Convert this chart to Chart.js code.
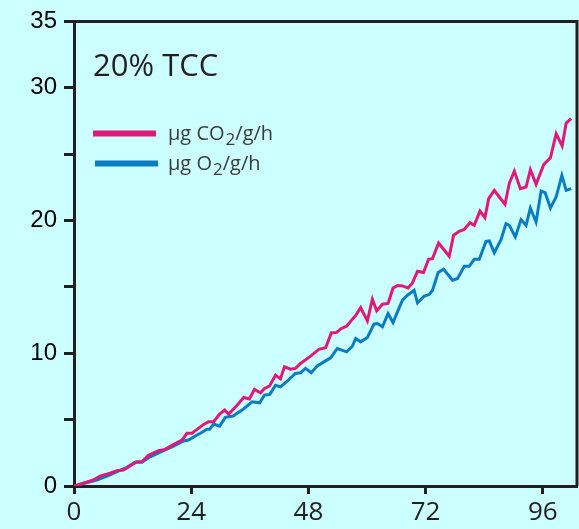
<!DOCTYPE html>
<html lang="en">
<head>
  <meta charset="UTF-8">
  <title>20% TCC</title>
  <style>
    html, body { margin: 0; padding: 0; background: #ccffff; }
    #wrap { width: 579px; height: 529px; }
  </style>
</head>
<body>
  <div id="wrap"><canvas id="gasChart" width="579" height="529"></canvas></div>

  <script src="https://cdn.jsdelivr.net/npm/chart.js"></script>
  <script>
    // respiration readings, hours since start
    const co2Hours = [0, 3.96, 5.34, 7.39, 8.76, 10.12, 12.87, 13.9, 15.25, 17.3, 18.68, 20.05, 22.11, 23.13, 24.16,
      26.54, 27.57, 28.59, 29.82, 30.85, 31.67, 33.4, 34.75, 35.92, 36.95, 38.18, 39.0, 40.02, 41.26, 42.28, 43.1,
      44.33, 45.36, 46.39, 48.44, 50.14, 51.52, 52.69, 53.78, 54.74, 55.83, 57.0, 57.68, 58.7, 60.08, 61.1, 61.99,
      63.16, 64.31, 65.33, 66.24, 67.26, 68.41, 69.31, 70.34, 71.57, 72.6, 73.42, 74.65, 76.83, 77.73, 78.88, 79.91,
      81.08, 81.96, 83.13, 84.15, 84.91, 86.06, 87.09, 88.26, 89.14, 90.17, 91.4, 92.57, 93.45, 94.62, 96.2, 97.56,
      98.73, 99.96, 100.78, 101.81];
    const co2Values = [0, 0.45, 0.75, 0.96, 1.15, 1.2, 1.83, 1.83, 2.31, 2.66, 2.76, 3.06, 3.46, 3.97, 3.97,
      4.64, 4.84, 4.84, 5.42, 5.72, 5.42, 6.09, 6.67, 6.55, 7.28, 7.02, 7.35, 7.52, 8.35, 8.07, 8.98,
      8.8, 8.86, 9.23, 9.78, 10.29, 10.41, 11.53, 11.57, 11.87, 12.04, 12.57, 12.84, 13.45, 12.44, 14.07, 13.19,
      13.69, 13.75, 14.92, 15.1, 15.07, 14.92, 15.3, 16.18, 16.08, 17.08, 17.13, 18.31, 17.31, 18.89, 19.19, 19.32,
      19.84, 19.64, 20.71, 20.22, 21.65, 22.27, 21.77, 21.22, 22.82, 23.72, 22.4, 22.52, 23.83, 22.72, 24.23, 24.73,
      26.54, 25.61, 27.34, 27.67];

    const o2Hours = [0, 4.66, 7.39, 10.82, 12.52, 13.9, 15.6, 18.33, 20.38, 22.43, 23.46, 25.18, 25.86, 27.24, 27.77,
      28.59, 29.82, 30.99, 32.57, 34.42, 36.47, 38.03, 39.0, 40.09, 41.26, 42.28, 43.66, 45.36, 46.39, 47.41, 48.58,
      49.82, 51.17, 52.55, 53.92, 55.83, 57.0, 57.68, 58.7, 60.08, 61.43, 62.13, 63.16, 64.31, 65.33, 66.24, 67.26,
      68.29, 69.64, 70.34, 71.7, 72.72, 73.42, 74.57, 75.68, 77.52, 78.55, 79.91, 80.93, 81.96, 82.99, 84.36, 85.04,
      86.06, 87.44, 88.46, 89.14, 90.37, 91.54, 92.57, 93.45, 94.62, 95.65, 96.47, 97.56, 98.73, 99.9, 100.78, 101.81];
    const o2Values = [0, 0.45, 0.83, 1.41, 1.78, 1.78, 2.2, 2.66, 3.01, 3.39, 3.46, 3.84, 3.97, 4.27, 4.27,
      4.67, 4.51, 5.17, 5.27, 5.72, 6.34, 6.27, 6.85, 6.9, 7.58, 7.47, 7.9, 8.48, 8.53, 8.86, 8.53,
      9.05, 9.35, 9.65, 10.36, 10.11, 10.53, 11.11, 10.86, 11.19, 12.19, 12.24, 11.99, 12.99, 12.32, 13.12, 14.0,
      14.37, 14.75, 13.79, 14.3, 14.42, 14.75, 16.08, 16.33, 15.5, 15.63, 16.55, 16.55, 17.08, 17.08, 18.43, 18.46,
      17.58, 18.56, 19.77, 19.64, 18.76, 20.07, 19.64, 20.94, 19.89, 22.22, 22.1, 20.94, 21.77, 23.4, 22.27, 22.4];

    const xTicks = [0, 24, 48, 72, 96];
    const yLabelled = [0, 10, 20, 30, 35];

    const INK = '#231f20';
    const PINK = '#e2177a';
    const BLUE = '#0a7cc4';

    const toPoints = (xs, ys) => xs.map((x, i) => ({ x: x, y: ys[i] }));

    // box on the top and right edges of the plot
    const frame = {
      id: 'frame',
      afterDraw(chart) {
        const { ctx, chartArea: a } = chart;
        ctx.save();
        ctx.strokeStyle = INK;
        ctx.lineWidth = 3;
        ctx.beginPath();
        ctx.moveTo(a.left, a.top);
        ctx.lineTo(a.right, a.top);
        ctx.lineTo(a.right, a.bottom);
        ctx.stroke();
        ctx.restore();
      }
    };

    // title and legend sit inside the plot
    const notes = {
      id: 'notes',
      afterDraw(chart) {
        const { ctx, chartArea: a } = chart;
        const left = a.left + 19;
        ctx.save();
        ctx.fillStyle = INK;
        ctx.textBaseline = 'alphabetic';
        ctx.font = '31px "Open Sans"';
        ctx.fillText('20% TCC', left, a.top + 55);

        const rows = [
          { gas: 'CO', color: chart.data.datasets[0].borderColor, y: a.top + 112 },
          { gas: 'O', color: chart.data.datasets[1].borderColor, y: a.top + 142 }
        ];
        rows.forEach((r, i) => {
          ctx.strokeStyle = r.color;
          ctx.lineWidth = 6;
          ctx.beginPath();
          ctx.moveTo(left + i * 2, r.y);
          ctx.lineTo(left + 63 + i * 2, r.y);
          ctx.stroke();

          let x = left + 75;
          const base = r.y + 6.5;
          ctx.fillStyle = '#3a3a3a';
          ctx.font = '20px "Open Sans"';
          const head = '\u00b5g ' + r.gas;
          ctx.fillText(head, x, base);
          x += ctx.measureText(head).width + 1;
          ctx.font = '17px "Open Sans"';
          ctx.fillText('2', x, base + 5);
          x += ctx.measureText('2').width;
          ctx.font = '20px "Open Sans"';
          ctx.fillText('/g/h', x, base);
        });
        ctx.restore();
      }
    };

    new Chart(document.getElementById('gasChart'), {
      type: 'line',
      data: {
        datasets: [
          {
            label: '\u00b5g CO2/g/h',
            data: toPoints(co2Hours, co2Values),
            borderColor: PINK,
            borderWidth: 3,
            pointRadius: 0,
            tension: 0,
            fill: false
          },
          {
            label: '\u00b5g O2/g/h',
            data: toPoints(o2Hours, o2Values),
            borderColor: BLUE,
            borderWidth: 3,
            pointRadius: 0,
            tension: 0,
            fill: false
          }
        ]
      },
      options: {
        responsive: false,
        animation: false,
        layout: { padding: { top: 21, right: 2, left: 0, bottom: 0 } },
        plugins: {
          legend: { display: false },
          tooltip: { enabled: false }
        },
        scales: {
          x: {
            type: 'linear',
            min: 0,
            max: 103,
            afterFit: s => { s.height = 43; },
            afterBuildTicks: s => { s.ticks = xTicks.map(v => ({ value: v })); },
            ticks: {
              color: INK,
              padding: 3,
              maxRotation: 0,
              font: { family: '"Open Sans"', size: 26 }
            },
            grid: {
              drawOnChartArea: false,
              drawTicks: true,
              tickLength: 8,
              tickWidth: 3,
              tickColor: INK
            },
            border: { display: true, color: INK, width: 3 }
          },
          y: {
            min: 0,
            max: 35,
            afterFit: s => { s.width = 74; },
            ticks: {
              stepSize: 5,
              color: '#000',
              padding: 7,
              font: { family: '"Liberation Sans", Arial', size: 24 },
              callback: v => (yLabelled.includes(v) ? String(v) : '')
            },
            grid: {
              drawOnChartArea: false,
              drawTicks: true,
              tickLength: 10,
              tickWidth: 3,
              tickColor: INK
            },
            border: { display: true, color: INK, width: 3 }
          }
        }
      },
      plugins: [frame, notes]
    });
  </script>
</body>
</html>
